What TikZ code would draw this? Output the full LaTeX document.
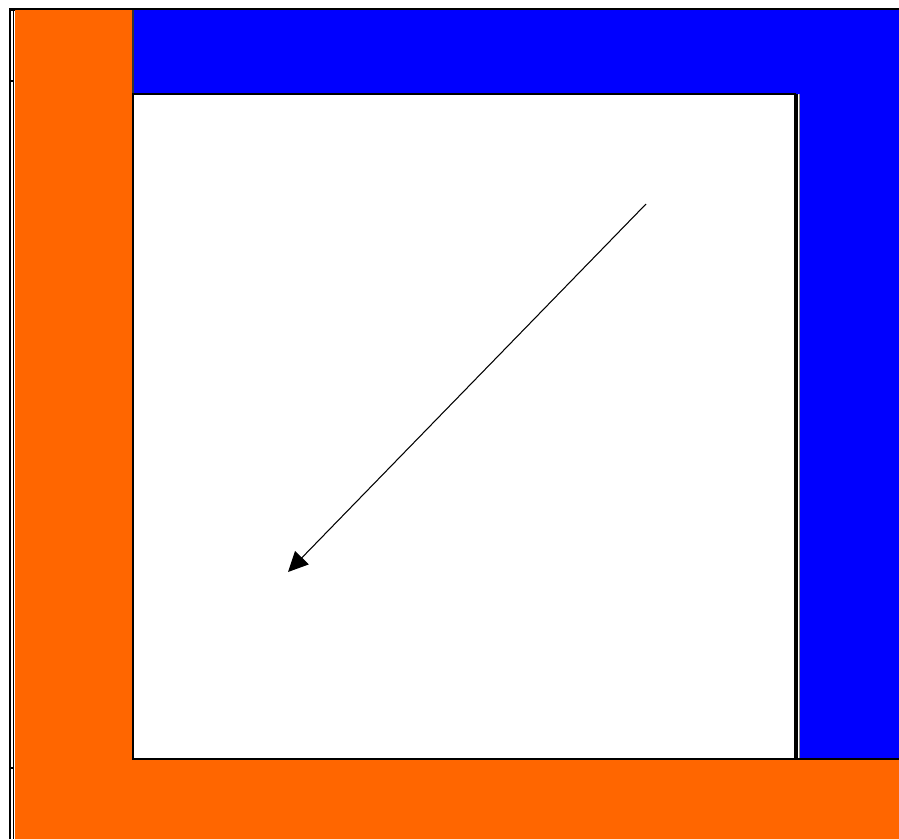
\documentclass[tikz,border=0pt]{standalone}
\usepackage{tikz}
\usetikzlibrary{arrows.meta}
\definecolor{bandorange}{HTML}{FF6600}
\definecolor{bandblue}{HTML}{0000FF}

\begin{document}
\begin{tikzpicture}[
  x=0.02cm, y=-0.02cm,
  band/.style={draw=black!80, line width=0.6pt},
  frame/.style={draw=black, line width=1.2pt},
  >={Triangle[length=0.4cm, width=0.38cm]}
]
\useasboundingbox (0,0) rectangle (899,839);
% outer frame lines
\draw[frame] (10,839) -- (10,9.5) -- (899,9.5);
\draw[black, line width=0.6pt] (13.5,10) -- (13.5,839);
\draw[black, line width=0.8pt] (9,81) -- (14,81);
\draw[black, line width=0.8pt] (9,768) -- (14,768);
% orange L
\fill[bandorange] (15,10) -- (133,10) -- (133,759) -- (899,759) -- (899,839) -- (15,839) -- cycle;
% blue L
\fill[bandblue] (133,10) -- (899,10) -- (899,759) -- (800,759) -- (800,94) -- (133,94) -- cycle;
\draw[band] (133,10) -- (133,759);
% inner square
\draw[fill=white, draw=black, line width=1pt] (133,94) rectangle (795,759);
\draw[black, line width=1.8pt] (796.5,94) -- (796.5,759);
\draw[black!45, line width=0.5pt] (799,94) -- (799,759);
\draw[black, line width=1pt] (795,759) -- (899,759);
% arrow
\coordinate (start) at (646,204);
\coordinate (tip) at (288,572);
\draw[->, line width=0.6pt] (start) -- (tip);
\end{tikzpicture}
\end{document}
